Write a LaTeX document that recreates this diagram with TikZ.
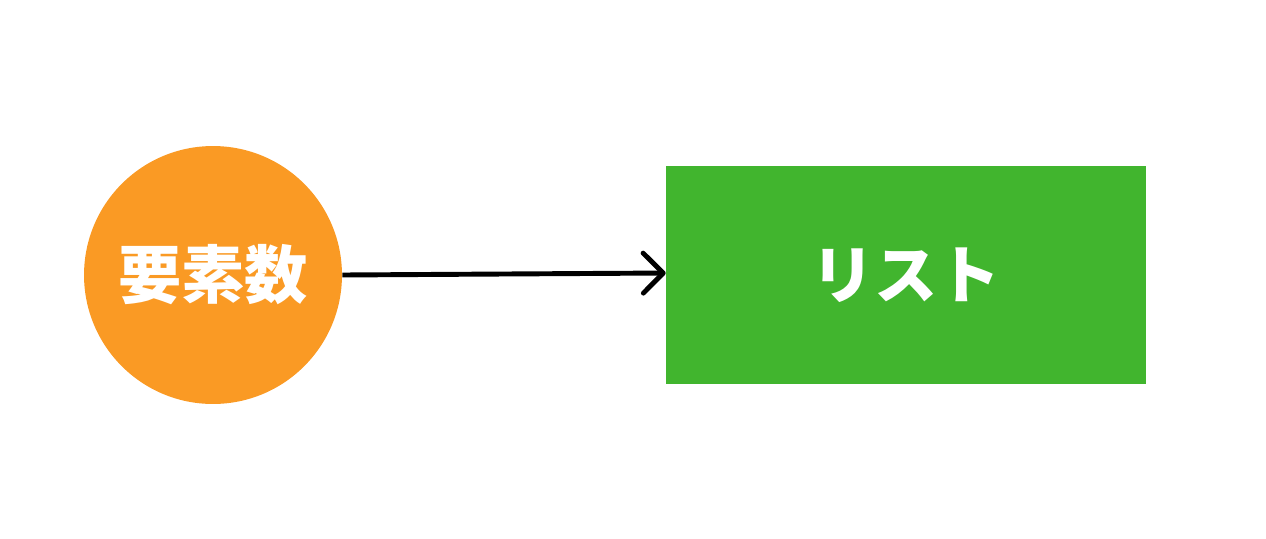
\documentclass[tikz,border=0pt]{standalone}
\usepackage{fontspec}
\newfontfamily\cjk{Noto Sans CJK JP}
\usetikzlibrary{arrows.meta}
\definecolor{orangefill}{HTML}{FA9A24}
\definecolor{greenfill}{HTML}{41B52E}
\tikzset{
  lbl/.style={text=white,font=\cjk\bfseries\fontsize{36}{40}\selectfont},
  circ/.style={circle,fill=orangefill,minimum size=5.16cm,inner sep=0pt,lbl},
  boxnode/.style={rectangle,fill=greenfill,minimum width=9.6cm,minimum height=4.36cm,inner sep=0pt,lbl},
  conn/.style={line width=2.8pt,-{Straight Barb[length=0.4cm,width=0.8cm,line cap=round,line join=round]}}
}
\begin{document}
\begin{tikzpicture}[x=0.02cm,y=-0.02cm]
\useasboundingbox (0,0) rectangle (1266,538);
\node[circ] (n) at (213,275) {要素数};
\node[boxnode] (l) at (906,275) {リスト};
\draw[conn] (n.east) -- (l.west |- 0,273);
\end{tikzpicture}
\end{document}
